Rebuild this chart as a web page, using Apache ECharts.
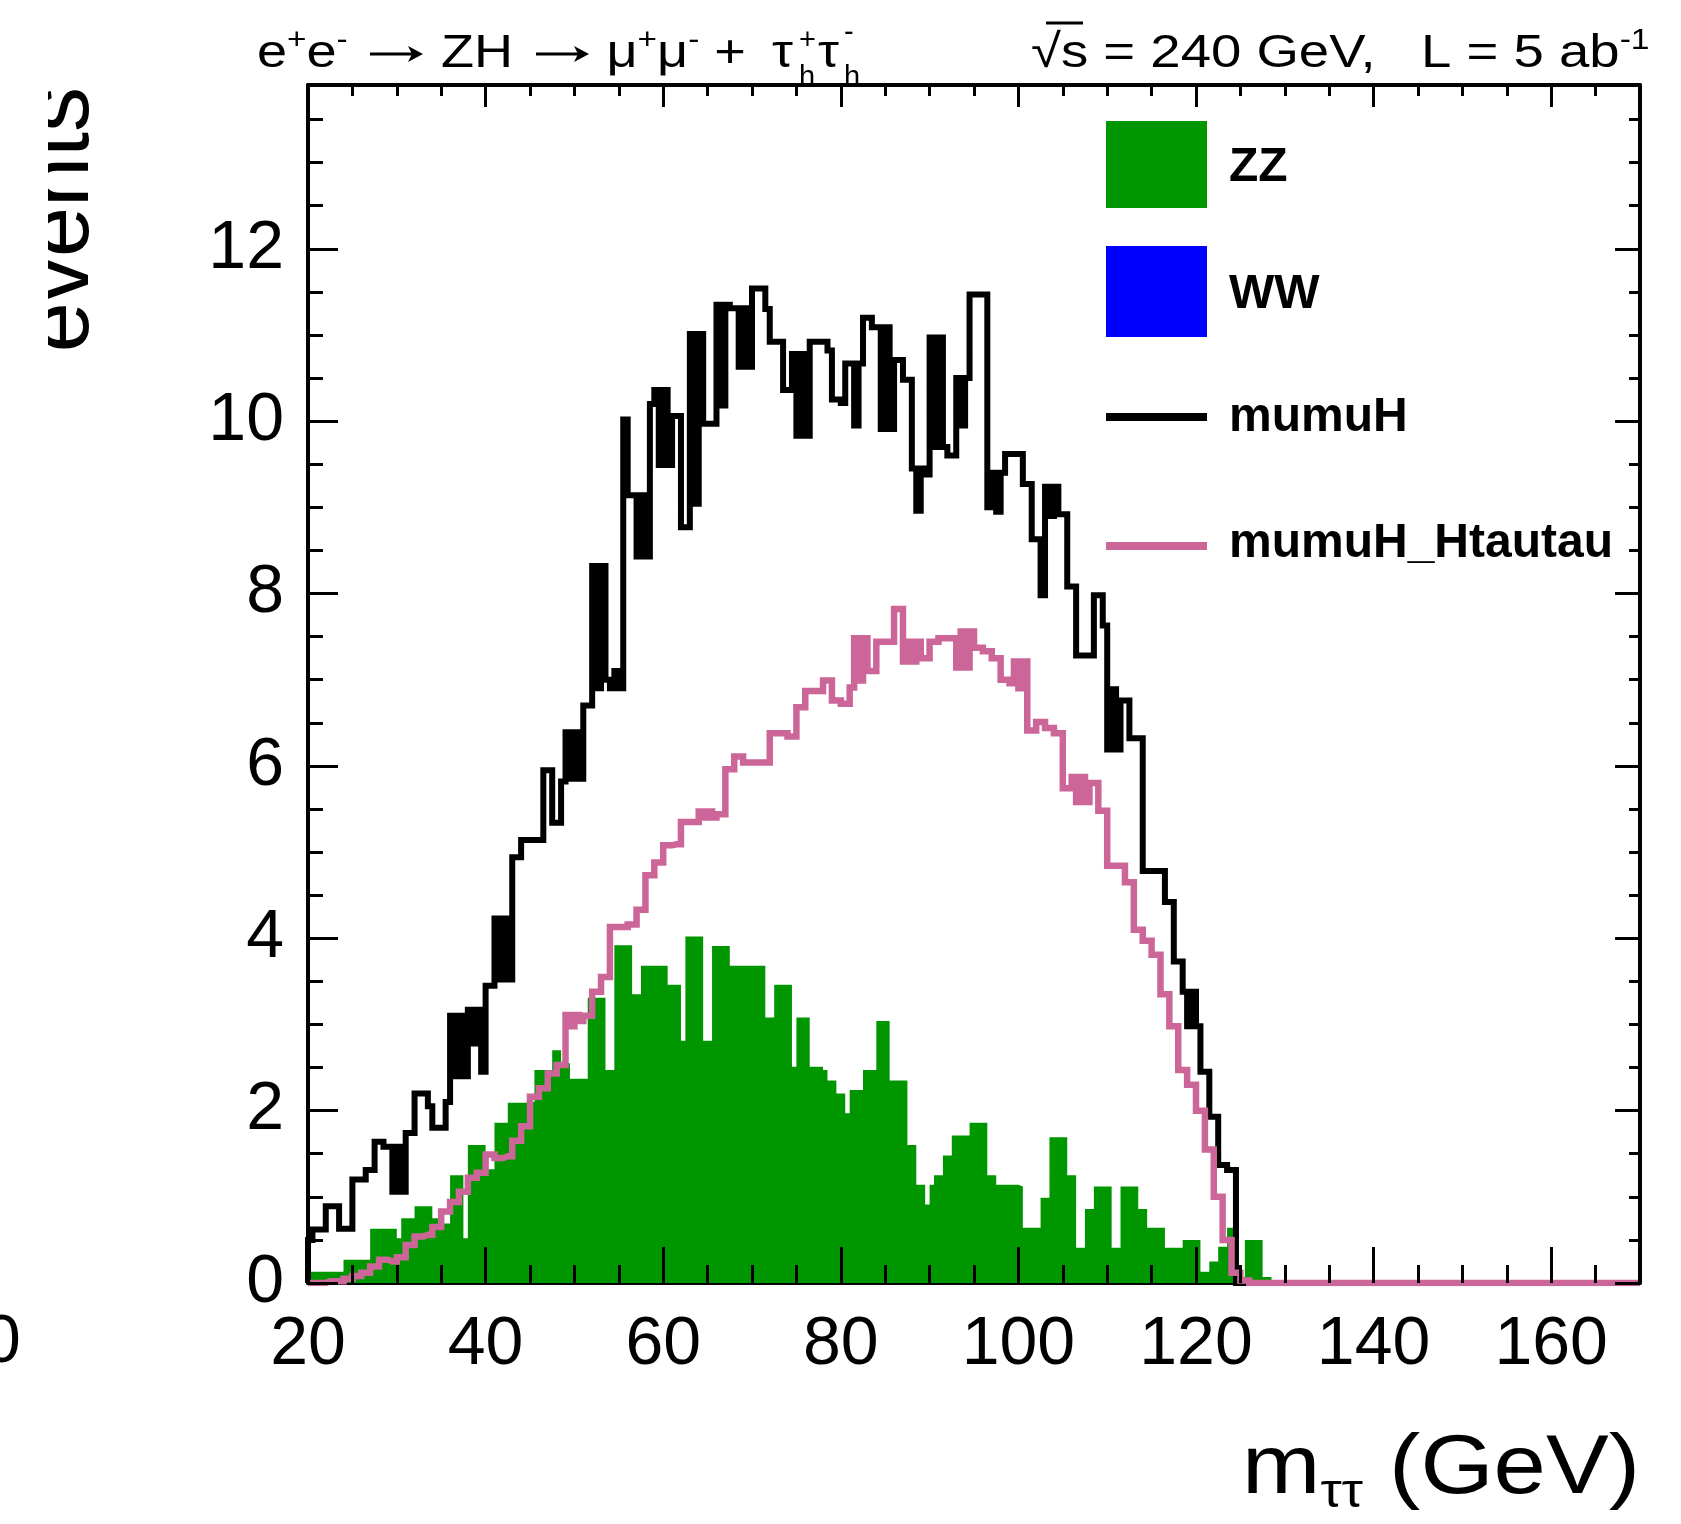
<!DOCTYPE html>
<html>
<head>
<meta charset="utf-8">
<script src="https://cdn.jsdelivr.net/npm/echarts@6.0.0/dist/echarts.min.js"></script>
<style>
  html, body { margin: 0; padding: 0; background: #fff; }
  #mttChart { width: 1681px; height: 1524px; }
</style>
</head>
<body>
<div id="mttChart"></div>
<script>
    // histogram binning: 0.5 GeV bins starting at 20 GeV, everything above 130 GeV is empty
    var binStart = 20;
    var binWidth = 0.5;
    var xMax = 170;

    var xTickLabels = [20, 40, 60, 80, 100, 120, 140, 160];
    var yTickLabels = [0, 2, 4, 6, 8, 10, 12];

    // ZZ (green, filled)
    var zz = [
        0.13,0.13,0.13,0.13,0.13,0.13,0.13,0.13,0.27,0.27, 0.27,0.27,0.27,0.27,0.63,0.63,0.63,0.63,0.63,0.63,
        0.52,0.75,0.75,0.75,0.89,0.89,0.89,0.89,0.75,0.75, 0.69,0.69,1.25,1.25,1.25,0.52,1.60,1.60,1.60,1.60,
        1.32,1.32,1.86,1.86,1.86,2.09,2.09,2.09,2.09,2.10, 2.10,2.47,2.47,2.47,2.47,2.70,2.70,2.55,2.55,2.37,
        2.37,2.37,2.37,3.31,3.31,3.31,3.31,2.47,2.47,3.92, 3.92,3.92,3.92,3.35,3.35,3.68,3.68,3.68,3.68,3.68,
        3.68,3.46,3.46,3.46,2.81,4.02,4.02,4.02,4.02,2.81, 2.81,3.91,3.91,3.91,3.91,3.68,3.68,3.68,3.68,3.68,
        3.68,3.68,3.68,3.08,3.08,3.46,3.46,3.46,3.46,2.51, 3.08,3.08,3.08,2.51,2.51,2.51,2.47,2.35,2.35,2.20,
        2.20,1.97,2.24,2.24,2.24,2.47,2.47,2.47,3.04,3.04, 3.04,2.35,2.35,2.35,2.35,1.60,1.60,1.14,1.14,0.91,
        1.14,1.25,1.25,1.48,1.48,1.71,1.71,1.71,1.71,1.86, 1.86,1.86,1.86,1.25,1.25,1.14,1.14,1.14,1.14,1.14,
        1.12,0.64,0.64,0.64,0.64,0.99,0.99,1.69,1.69,1.69, 1.69,1.25,1.25,0.41,0.41,0.86,0.86,1.12,1.12,1.12,
        1.12,0.41,0.41,1.12,1.12,1.12,1.12,0.86,0.86,0.64, 0.64,0.64,0.64,0.41,0.41,0.41,0.41,0.50,0.50,0.50,
        0.50,0.13,0.13,0.25,0.25,0.42,0.42,0.64,0.64,0.07, 0.07,0.50,0.50,0.50,0.50,0.07,0.07,0,0,0
    ];

    // WW has no entries in this selection
    var ww = [];

    // mumuH (black line)
    var mumuH = [
        0.50,0.62,0.62,0.62,0.89,0.89,0.89,0.63,0.63,0.63, 1.20,1.20,1.20,1.31,1.31,1.64,1.64,1.58,1.58,1.06,
        1.58,1.06,1.74,1.74,2.20,2.20,2.20,2.05,1.80,1.80, 1.80,2.10,3.10,2.40,3.10,2.40,3.17,2.78,3.17,2.45,
        3.45,3.45,4.23,3.52,4.23,3.52,4.94,4.94,5.14,5.14, 5.14,5.14,5.14,5.95,5.95,5.34,5.34,5.82,6.39,5.85,
        6.39,5.85,6.70,6.70,8.32,6.90,8.32,7.00,6.90,7.10, 6.90,10.02,9.14,9.14,8.43,9.14,8.43,10.20,10.36,9.49,
        10.36,9.49,10.06,10.06,8.77,8.77,11.01,9.04,11.01,9.97, 9.97,9.97,11.35,10.18,11.35,11.31,11.31,10.63,11.31,10.63,
        11.54,11.54,11.54,11.30,10.92,10.92,10.92,10.36,10.36,10.78, 9.83,10.78,9.83,10.92,10.92,10.92,10.92,10.82,10.25,10.25,
        10.21,10.67,10.67,9.95,10.67,11.20,11.20,11.09,11.09,9.91, 11.09,9.91,10.71,10.71,10.48,10.48,9.45,8.96,9.45,9.38,
        10.97,9.70,10.97,9.70,9.60,9.60,10.50,9.95,10.50,11.47, 11.47,11.47,11.47,9.00,9.40,8.95,9.40,9.62,9.62,9.62,
        9.62,9.27,9.27,8.63,8.63,7.98,9.24,8.90,9.24,8.92, 8.92,8.08,8.08,7.28,7.28,7.28,7.28,7.98,7.98,7.63,
        6.19,6.89,6.19,6.76,6.76,6.32,6.32,6.32,4.78,4.78, 4.78,4.78,4.78,4.42,4.42,3.73,3.73,3.38,2.98,3.38,
        2.98,2.45,2.45,1.93,1.93,1.37,1.37,1.31,1.31,0, 0,0,0,0,0,0,0,0,0,0
    ];

    // mumuH_Htautau (pink line)
    var mumuHtautau = [
        0,0,0,0,0.02,0.02,0.02,0.02,0.05,0.05, 0.08,0.08,0.12,0.12,0.19,0.19,0.27,0.27,0.25,0.25,
        0.30,0.30,0.44,0.44,0.54,0.54,0.56,0.56,0.65,0.65, 0.83,0.83,0.94,0.94,1.06,1.06,1.22,1.22,1.28,1.28,
        1.49,1.49,1.45,1.45,1.47,1.47,1.65,1.65,1.82,1.82, 2.16,2.16,2.26,2.26,2.43,2.43,2.53,2.53,3.11,2.98,
        3.11,3.04,3.10,3.10,3.38,3.38,3.55,3.55,4.13,4.13, 4.13,4.13,4.16,4.16,4.33,4.33,4.73,4.73,4.88,4.88,
        5.08,5.08,5.09,5.09,5.35,5.35,5.35,5.35,5.47,5.40, 5.47,5.40,5.44,5.44,5.96,5.96,6.11,6.11,6.04,6.04,
        6.04,6.04,6.04,6.04,6.38,6.38,6.38,6.38,6.34,6.34, 6.68,6.68,6.87,6.87,6.87,6.87,6.99,6.99,6.76,6.76,
        6.72,6.72,6.91,7.48,6.99,7.48,7.10,7.10,7.44,7.44, 7.44,7.44,7.82,7.82,7.21,7.44,7.21,7.44,7.25,7.25,
        7.44,7.44,7.48,7.48,7.48,7.48,7.14,7.56,7.14,7.56, 7.37,7.37,7.33,7.33,7.25,7.25,7.00,7.00,6.96,7.21,
        6.90,7.21,6.41,6.41,6.51,6.51,6.44,6.44,6.38,6.38, 5.74,5.74,5.87,5.58,5.87,5.58,5.80,5.80,5.48,5.48,
        4.84,4.84,4.84,4.84,4.65,4.65,4.10,4.10,3.97,3.97, 3.81,3.81,3.35,3.35,2.98,2.98,2.47,2.47,2.30,2.30,
        2.00,2.00,1.55,1.55,1.00,1.00,0.50,0.50,0.12,0.12, 0.03,0.03,0,0,0,0,0,0,0,0
    ];

    var green = '#009600';
    var blue = '#0000ff';
    var pink = '#cc6699';
    var font = '"Liberation Sans", Arial, Helvetica, sans-serif';

    // turn bin contents into step points (value of bin i holds from its low edge to the next)
    function toSteps(vals) {
        var pts = [[binStart, 0]];
        for (var i = 0; i < vals.length; i++) {
            pts.push([binStart + i * binWidth, vals[i]]);
        }
        pts.push([binStart + vals.length * binWidth, 0]);
        pts.push([xMax, 0]);
        return pts;
    }

    function tickAxis(dir, pos, interval, len, extra) {
        var a = {
            type: 'value',
            position: pos,
            min: dir === 'x' ? binStart : 0,
            max: dir === 'x' ? xMax : 13.9,
            interval: interval,
            z: 10,
            axisLine: { show: false, onZero: false },
            axisTick: { show: true, inside: true, length: len, lineStyle: { color: '#000', width: 3 } },
            axisLabel: { show: false },
            splitLine: { show: false }
        };
        return Object.assign(a, extra || {});
    }

    function txt(x, y, s, size, opts) {
        var st = {
            text: s, font: size + 'px ' + font, fill: '#000',
            textAlign: 'left', align: 'left', textVerticalAlign: 'middle', verticalAlign: 'middle'
        };
        return Object.assign({ type: 'text', x: x, y: y, style: st }, opts || {});
    }

    // a thin right arrow like the TLatex one
    function arrow(x1, x2, y) {
        return [
            { type: 'line', shape: { x1: x1, y1: y, x2: x2 - 4, y2: y }, style: { stroke: '#000', lineWidth: 3 } },
            { type: 'polygon', shape: { points: [[x2, y], [x2 - 15, y - 8], [x2 - 11, y], [x2 - 15, y + 8]] }, style: { fill: '#000' } }
        ];
    }

    var frameLine = { show: true, onZero: false, lineStyle: { color: '#000', width: 4 } };

    var graphics = [
        // process label, top left; arrows and the tau part are placed by hand
        {
            type: 'text', x: 257, y: 54, scaleX: 1.15,
            style: {
                text: '{n|e}{sup|+}{n|e}{sup|-}{n| }{a| }{n| ZH }{a| }{n| \u03bc}{sup|+}{n|\u03bc}{sup|-}{n| + }',
                fill: '#000', textAlign: 'left', align: 'left', textVerticalAlign: 'middle', verticalAlign: 'middle',
                rich: {
                    n: { fontSize: 47, fontFamily: font, lineHeight: 56, verticalAlign: 'middle', fill: '#000' },
                    a: { fontSize: 47, fontFamily: font, lineHeight: 56, verticalAlign: 'middle', padding: [0, 21, 0, 21], fill: '#000' },
                    sup: { fontSize: 29, fontFamily: font, lineHeight: 29, verticalAlign: 'top', fill: '#000' }
                }
            }
        },
        txt(772, 54, '\u03c4', 47, { scaleX: 1.13 }),
        txt(799, 41, '+', 29),
        txt(799, 78, 'h', 29),
        txt(818, 54, '\u03c4', 47, { scaleX: 1.13 }),
        txt(844, 33, '-', 29),
        txt(844, 78, 'h', 29),
        // energy / luminosity, top right
        {
            type: 'text', x: 1031, y: 54, scaleX: 1.16,
            style: {
                text: '{n|\u221as = 240 GeV,   L = 5 ab}{sup|-1}',
                fill: '#000', textAlign: 'left', align: 'left', textVerticalAlign: 'middle', verticalAlign: 'middle',
                rich: {
                    n: { fontSize: 47, fontFamily: font, lineHeight: 56, verticalAlign: 'middle', fill: '#000' },
                    sup: { fontSize: 29, fontFamily: font, lineHeight: 29, verticalAlign: 'top', fill: '#000' }
                }
            }
        },
        // bar of the square root
        { type: 'line', shape: { x1: 1046, y1: 23, x2: 1083, y2: 23 }, style: { stroke: '#000', lineWidth: 3 } },
        // y title, its top part is cut off by the picture border
        {
            type: 'text', x: 108, y: 87, rotation: Math.PI / 2,
            style: {
                text: 'events', font: '90px ' + font, fill: '#000',
                textAlign: 'right', align: 'right', textVerticalAlign: 'bottom', verticalAlign: 'bottom'
            }
        },
        { type: 'rect', shape: { x: 0, y: 70, width: 48, height: 300 }, style: { fill: '#fff' } },
        // x title
        {
            type: 'text', x: 1640, y: 1470, scaleX: 1.12,
            style: {
                text: '{m|m}{sub|\u03c4\u03c4}{m| (GeV)}',
                fill: '#000', textAlign: 'right', align: 'right', textVerticalAlign: 'middle', verticalAlign: 'middle',
                rich: {
                    m: { fontSize: 84, fontFamily: font, lineHeight: 96, verticalAlign: 'middle', fill: '#000' },
                    sub: { fontSize: 48, fontFamily: font, lineHeight: 26, verticalAlign: 'bottom', fill: '#000' }
                }
            }
        },
        // stray label cut by the left border
        {
            type: 'text', x: 2, y: 1343,
            style: { text: '0', font: '68px ' + font, fill: '#000', textAlign: 'center', align: 'center', textVerticalAlign: 'middle', verticalAlign: 'middle' }
        },
        // legend
        { type: 'rect', shape: { x: 1106, y: 121, width: 101, height: 87 }, style: { fill: green } },
        { type: 'rect', shape: { x: 1106, y: 246, width: 101, height: 91 }, style: { fill: blue } },
        { type: 'line', shape: { x1: 1106, y1: 417, x2: 1207, y2: 417 }, style: { stroke: '#000', lineWidth: 8 } },
        { type: 'line', shape: { x1: 1106, y1: 546, x2: 1207, y2: 546 }, style: { stroke: pink, lineWidth: 8 } },
        { type: 'text', x: 1229, y: 168, style: { text: 'ZZ', font: 'bold 48px ' + font, fill: '#000', textVerticalAlign: 'middle', verticalAlign: 'middle' } },
        { type: 'text', x: 1229, y: 295, style: { text: 'WW', font: 'bold 48px ' + font, fill: '#000', textVerticalAlign: 'middle', verticalAlign: 'middle' } },
        { type: 'text', x: 1229, y: 418, style: { text: 'mumuH', font: 'bold 48px ' + font, fill: '#000', textVerticalAlign: 'middle', verticalAlign: 'middle' } },
        { type: 'text', x: 1229, y: 544, style: { text: 'mumuH_Htautau', font: 'bold 48px ' + font, fill: '#000', textVerticalAlign: 'middle', verticalAlign: 'middle' } }
    ].concat(arrow(370, 423, 54), arrow(536, 589, 54));

    var myChart = echarts.init(document.getElementById('mttChart'));
    var option = {
        animation: false,
        backgroundColor: '#fff',
        textStyle: { fontFamily: font },
        grid: { left: 308, right: 41, top: 85, bottom: 241, containLabel: false, outerBoundsMode: 'none' },
        xAxis: [
            tickAxis('x', 'bottom', 20, 36, {
                axisLabel: {
                    show: true, margin: 28, fontSize: 68, color: '#000', fontFamily: font,
                    formatter: function (v) { return xTickLabels.indexOf(v) >= 0 ? String(v) : ''; }
                }
            }),
            tickAxis('x', 'bottom', 5, 18),
            tickAxis('x', 'top', 20, 22, { axisLine: frameLine }),
            tickAxis('x', 'top', 5, 11),
            // bottom frame line, kept under the histograms
            tickAxis('x', 'bottom', 20, 0, { z: 0, axisTick: { show: false }, axisLine: frameLine })
        ],
        yAxis: [
            tickAxis('y', 'left', 2, 30, {
                axisLine: frameLine,
                axisLabel: {
                    show: true, margin: 24, fontSize: 68, color: '#000', fontFamily: font,
                    formatter: function (v) { return yTickLabels.indexOf(v) >= 0 ? String(v) : ''; }
                }
            }),
            tickAxis('y', 'left', 0.5, 15),
            tickAxis('y', 'right', 2, 25, { axisLine: frameLine }),
            tickAxis('y', 'right', 0.5, 11)
        ],
        series: [
            {
                name: 'ZZ', type: 'line', step: 'end', symbol: 'none', z: 2,
                data: toSteps(zz),
                lineStyle: { width: 0, color: green },
                itemStyle: { color: green },
                areaStyle: { color: green, opacity: 1 }
            },
            {
                name: 'WW', type: 'line', step: 'end', symbol: 'none', z: 2,
                data: toSteps(ww),
                lineStyle: { width: 0, color: blue },
                areaStyle: { color: blue, opacity: 1 }
            },
            {
                name: 'mumuH', type: 'line', step: 'end', symbol: 'none', z: 3,
                data: toSteps(mumuH),
                lineStyle: { color: '#000', width: 6, join: 'miter', cap: 'butt' }
            },
            {
                name: 'mumuH_Htautau', type: 'line', step: 'end', symbol: 'none', z: 4,
                data: toSteps(mumuHtautau),
                lineStyle: { color: pink, width: 6.5, join: 'miter', cap: 'butt' }
            }
        ],
        graphic: graphics
    };
    myChart.setOption(option);
</script>
</body>
</html>
